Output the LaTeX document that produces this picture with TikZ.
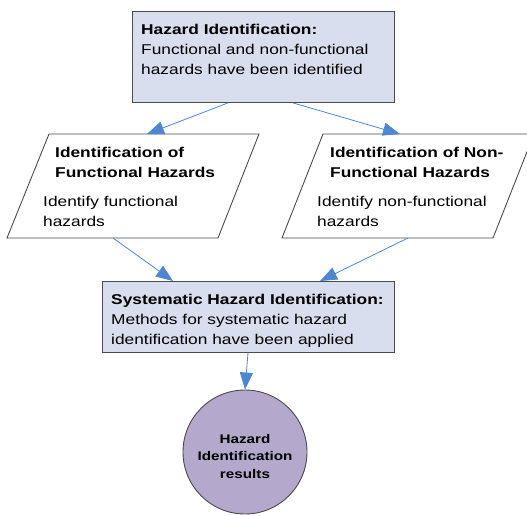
\documentclass[tikz,border=0pt]{standalone}
\usepackage{fontspec}
\setmainfont{Liberation Sans}[FakeStretch=1.22]
\usetikzlibrary{arrows.meta,calc}
\definecolor{boxfill}{HTML}{D9DEEE}
\definecolor{circfill}{HTML}{B4A8CC}
\definecolor{arrowblue}{HTML}{4F86D0}
\definecolor{edgecol}{HTML}{4A4A4A}
\begin{document}
\begin{tikzpicture}[x=1pt,y=-1pt,
  box/.style={draw=edgecol, fill=boxfill, line width=0.9pt, anchor=north west, inner sep=0pt},
  para/.style={draw=edgecol, fill=white, line width=0.9pt},
  txt/.style={anchor=base west, inner sep=0pt, font=\fontsize{14.2}{20}\selectfont, align=left},
  ctxt/.style={anchor=base, inner sep=0pt, font=\fontsize{12.5}{17.5}\selectfont\bfseries, align=center},
  conn/.style={draw=arrowblue, line width=0.8pt, -{Triangle[length=17pt,width=13pt]}, shorten >=0pt},
]
\useasboundingbox (0,0) rectangle (527,515);
% top box
\node[box, minimum width=262pt, minimum height=91pt] (top) at (132,11) {};
\node[txt] (toptext) at (141,74) {\textbf{Hazard Identification:}\\Functional and non-functional\\hazards have been identified};
% left parallelogram
\coordinate (lpnw) at (49,134);
\coordinate (lpne) at (259,134);
\coordinate (lpse) at (218,238);
\coordinate (lpsw) at (7,238);
\draw[para] (lpnw) -- (lpne) -- (lpse) -- (lpsw) -- cycle;
\node[txt] (lptitle) at (55,177) {\textbf{Identification of}\\\textbf{Functional Hazards}};
\node[txt] (lpbody) at (43,226) {Identify functional\\hazards};
% right parallelogram
\coordinate (rpnw) at (323,134);
\coordinate (rpne) at (534,134);
\coordinate (rpse) at (493,238);
\coordinate (rpsw) at (282,238);
\draw[para] (rpnw) -- (rpne) -- (rpse) -- (rpsw) -- cycle;
\node[txt] (rptitle) at (330,177) {\textbf{Identification of Non-}\\\textbf{Functional Hazards}};
\node[txt] (rpbody) at (317,226) {Identify non-functional\\hazards};
% systematic box
\node[box, minimum width=292pt, minimum height=71pt] (sys) at (102,281) {};
\node[txt] (systext) at (111,344) {\textbf{Systematic Hazard Identification:}\\Methods for systematic hazard\\identification have been applied};
% circle
\node[circle, draw=edgecol, fill=circfill, line width=0.9pt, minimum size=124pt, inner sep=0pt] (res) at (245,452) {};
\node[ctxt] (restext) at (245,478) {Hazard\\Identification\\results};
% connectors
\draw[conn] ($(top.south west)+(96,0)$) -- ($(lpnw)+(98,0)$);
\draw[conn] ($(top.south west)+(161,0)$) -- ($(rpnw)+(77,0)$);
\draw[conn] ($(lpsw)+(106,0)$) -- ($(sys.north west)+(71,0)$);
\draw[conn] ($(rpsw)+(126,0)$) -- ($(sys.north west)+(218,0)$);
\draw[conn] ($(sys.south west)+(146,0)$) -- (res.north);
\end{tikzpicture}
\end{document}
